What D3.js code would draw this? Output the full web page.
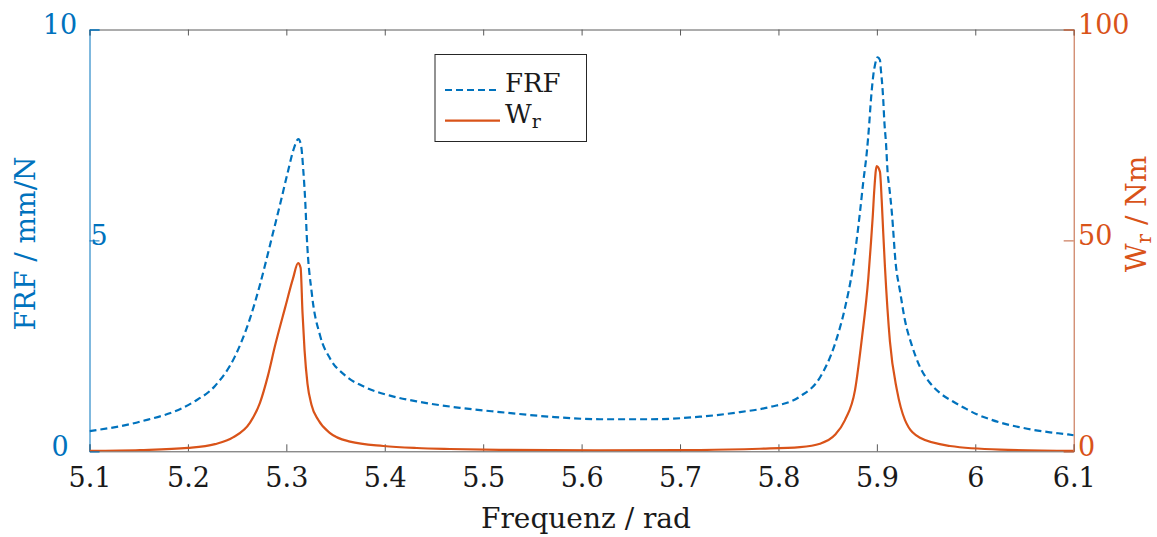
<!DOCTYPE html>
<html>
<head>
<meta charset="utf-8">
<script src="https://cdn.jsdelivr.net/npm/d3@7"></script>
<style>
  body { margin: 0; background: #fff; }
  text { font-family: "DejaVu Serif", serif; }
</style>
</head>
<body>
<div id="chart"></div>
<script>
// Frequency samples (rad) and FRF magnitude (mm/N)
var frfFreq = [5.100, 5.151, 5.205, 5.2275, 5.2478, 5.2631, 5.2732, 5.2793, 5.2851, 5.2936,
    5.302, 5.3071, 5.3122, 5.3149, 5.3172, 5.3193, 5.3207, 5.3261, 5.3342, 5.3444,
    5.3596, 5.3799, 5.4053, 5.4358, 5.4764, 5.5171, 5.5679, 5.6187, 5.6695, 5.7203,
    5.761, 5.7914, 5.8219, 5.8422, 5.8575, 5.8676, 5.8755, 5.8795, 5.8829, 5.8862,
    5.8897, 5.8923, 5.8937, 5.8953, 5.8964, 5.8981, 5.9008, 5.9031, 5.9041, 5.9055,
    5.9065, 5.9075, 5.9093, 5.911, 5.9126, 5.9153, 5.9191, 5.9235, 5.9286, 5.9357,
    5.9438, 5.954, 5.9642, 5.9774, 5.9896, 6.0014, 6.0149, 6.0302, 6.0434, 6.0586,
    6.0759, 6.0942, 6.100];
var frfVals = [0.48, 0.70, 1.16, 1.55, 2.25, 3.15, 3.95, 4.5, 5.05, 5.85,
    6.67, 7.14, 7.40, 7.26, 6.67, 5.88, 5.13, 3.7, 2.75, 2.2,
    1.8, 1.52, 1.32, 1.17, 1.03, 0.93, 0.82, 0.76, 0.76, 0.82,
    0.93, 1.05, 1.3, 1.75, 2.55, 3.4, 4.34, 5.01, 5.68, 6.39,
    7.07, 7.78, 8.25, 8.68, 8.92, 9.16, 9.34, 9.28, 9.04, 8.68,
    8.33, 7.86, 7.30, 6.59, 6.27, 5.64, 4.46, 3.8, 3.1, 2.5,
    2.0, 1.62, 1.38, 1.18, 1.02, 0.88, 0.76, 0.65, 0.58, 0.51,
    0.45, 0.40, 0.38];

// Frequency samples (rad) and W_r (Nm)
var wrFreq = [5.100, 5.1513, 5.2001, 5.2275, 5.2458, 5.2631, 5.2732, 5.2814, 5.2885, 5.2987,
    5.3068, 5.3119, 5.3145, 5.3164, 5.3185, 5.3215, 5.3256, 5.3325, 5.3444, 5.3647,
    5.3985, 5.4325, 5.4663, 5.5171, 5.6187, 5.7203, 5.7813, 5.8219, 5.8422, 5.8575,
    5.8676, 5.8778, 5.8849, 5.8913, 5.8937, 5.8958, 5.8974, 5.8998, 5.9031, 5.9049,
    5.9065, 5.9082, 5.9133, 5.9204, 5.9286, 5.9438, 5.9743, 6.0251, 6.100];
var wrVals = [0.1, 0.3, 0.8, 1.7, 3.3, 6.8, 11.5, 18, 25, 34,
    41, 44.6, 43.5, 33, 24, 16, 11, 7.4, 4.3, 2.3,
    1.26, 0.78, 0.55, 0.35, 0.22, 0.3, 0.6, 1.0, 1.8, 3.9,
    7.4, 14.5, 27, 41, 48.5, 55.6, 62, 67.6, 66.3, 59.6,
    51.7, 43.8, 26, 14.5, 7.4, 3.2, 1.26, 0.4, 0.1];

var xTicks = [5.1, 5.2, 5.3, 5.4, 5.5, 5.6, 5.7, 5.8, 5.9, 6, 6.1];
var leftTicks = [0, 5, 10];
var rightTicks = [0, 50, 100];

var blue = "#0072BD", orange = "#D95319", axisGrey = "#5a5a5a", ink = "#1a1a1a";

var W = 1157, H = 537;
var plot = { left: 89.5, right: 1073.7, top: 29.5, bottom: 451.3 };

var svg = d3.select("#chart").append("svg")
    .attr("width", W)
    .attr("height", H);

var x = d3.scaleLinear().domain([5.1, 6.1]).range([plot.left, plot.right]);
var yL = d3.scaleLinear().domain([0, 10]).range([plot.bottom, plot.top]);
var yR = d3.scaleLinear().domain([0, 100]).range([plot.bottom, plot.top]);

svg.append("clipPath").attr("id", "clip")
    .append("rect")
    .attr("x", plot.left).attr("y", plot.top - 2)
    .attr("width", plot.right - plot.left)
    .attr("height", plot.bottom - plot.top + 2);

// top and bottom axes
var topAxis = svg.append("g")
    .attr("transform", `translate(0,${plot.top})`)
    .call(d3.axisTop(x).tickValues(xTicks).tickSize(-6).tickFormat(""));

var bottomAxis = svg.append("g")
    .attr("transform", `translate(0,${plot.bottom})`)
    .call(d3.axisBottom(x).tickValues(xTicks).tickSize(-7).tickPadding(17)
        .tickFormat(d3.format("")));

[topAxis, bottomAxis].forEach(function (g) {
    g.select(".domain").attr("stroke", axisGrey).attr("stroke-width", 1);
    g.selectAll(".tick line").attr("stroke", axisGrey).attr("stroke-width", 1);
});
bottomAxis.selectAll("text")
    .style("font-family", "DejaVu Serif")
    .style("font-size", "27px")
    .attr("fill", ink);

// left axis (FRF) - the middle label sits closer to the axis in the original
var leftAxis = svg.append("g")
    .attr("transform", `translate(${plot.left},0)`)
    .call(d3.axisLeft(yL).tickValues(leftTicks).tickSize(-10).tickFormat(d3.format("d")));
leftAxis.select(".domain").attr("stroke", blue).attr("stroke-width", 1);
leftAxis.selectAll(".tick line").attr("stroke", blue);
leftAxis.selectAll("text")
    .style("font-family", "DejaVu Serif")
    .style("font-size", "27px")
    .attr("fill", blue)
    .attr("text-anchor", "middle")
    .attr("x", d => (d === 5 ? 99 : 60) - plot.left)
    .attr("dy", 4);

// right axis (W_r)
var rightAxis = svg.append("g")
    .attr("transform", `translate(${plot.right},0)`)
    .call(d3.axisRight(yR).tickValues(rightTicks).tickSize(-10).tickFormat(d3.format("d")));
rightAxis.select(".domain").attr("stroke", "#c0603a").attr("stroke-width", 1);
rightAxis.selectAll(".tick line").attr("stroke", "#c0603a");
rightAxis.selectAll("text")
    .style("font-family", "DejaVu Serif")
    .style("font-size", "27px")
    .attr("fill", orange)
    .attr("x", 1078 - plot.right)
    .attr("dy", 4);

// curves
var frfLine = d3.line()
    .x((d, i) => x(frfFreq[i]))
    .y(d => yL(d))
    .curve(d3.curveMonotoneX);

var wrLine = d3.line()
    .x((d, i) => x(wrFreq[i]))
    .y(d => yR(d))
    .curve(d3.curveMonotoneX);

var lines = svg.append("g").attr("clip-path", "url(#clip)");

lines.append("path")
    .datum(wrVals)
    .attr("d", wrLine)
    .attr("fill", "none")
    .attr("stroke", orange)
    .attr("stroke-width", 2.2);

lines.append("path")
    .datum(frfVals)
    .attr("d", frfLine)
    .attr("fill", "none")
    .attr("stroke", blue)
    .attr("stroke-width", 2.2)
    .attr("stroke-dasharray", "7,4");

// axis labels
svg.append("text")
    .attr("x", 586).attr("y", 528)
    .attr("text-anchor", "middle")
    .style("font-size", "28px")
    .attr("fill", ink)
    .text("Frequenz / rad");

svg.append("text")
    .attr("transform", "translate(34.5,243.5) rotate(-90)")
    .attr("text-anchor", "middle")
    .style("font-size", "28px")
    .attr("fill", blue)
    .text("FRF / mm/N");

var rLabel = svg.append("text")
    .attr("transform", "translate(1146,214) rotate(-90)")
    .attr("text-anchor", "middle")
    .style("font-size", "28px")
    .attr("fill", orange);
rLabel.append("tspan").text("W");
rLabel.append("tspan").attr("dy", 5).style("font-size", "20px").text("r");
rLabel.append("tspan").attr("dy", -5).text(" / Nm");

// legend
var legend = svg.append("g");
legend.append("rect")
    .attr("x", 435).attr("y", 54.5)
    .attr("width", 151.5).attr("height", 87)
    .attr("fill", "#fff")
    .attr("stroke", "#262626")
    .attr("stroke-width", 1);

legend.append("line")
    .attr("x1", 445).attr("x2", 500).attr("y1", 90).attr("y2", 90)
    .attr("stroke", blue).attr("stroke-width", 2.2)
    .attr("stroke-dasharray", "7,4");
legend.append("text")
    .attr("x", 505).attr("y", 91.5)
    .style("font-size", "26px")
    .attr("fill", ink)
    .text("FRF");

legend.append("line")
    .attr("x1", 445).attr("x2", 500).attr("y1", 120.7).attr("y2", 120.7)
    .attr("stroke", orange).attr("stroke-width", 2.2);
var wl = legend.append("text")
    .attr("x", 505).attr("y", 123)
    .style("font-size", "26px")
    .attr("fill", ink);
wl.append("tspan").text("W");
wl.append("tspan").attr("dy", 5).style("font-size", "19px").text("r");
</script>
</body>
</html>
